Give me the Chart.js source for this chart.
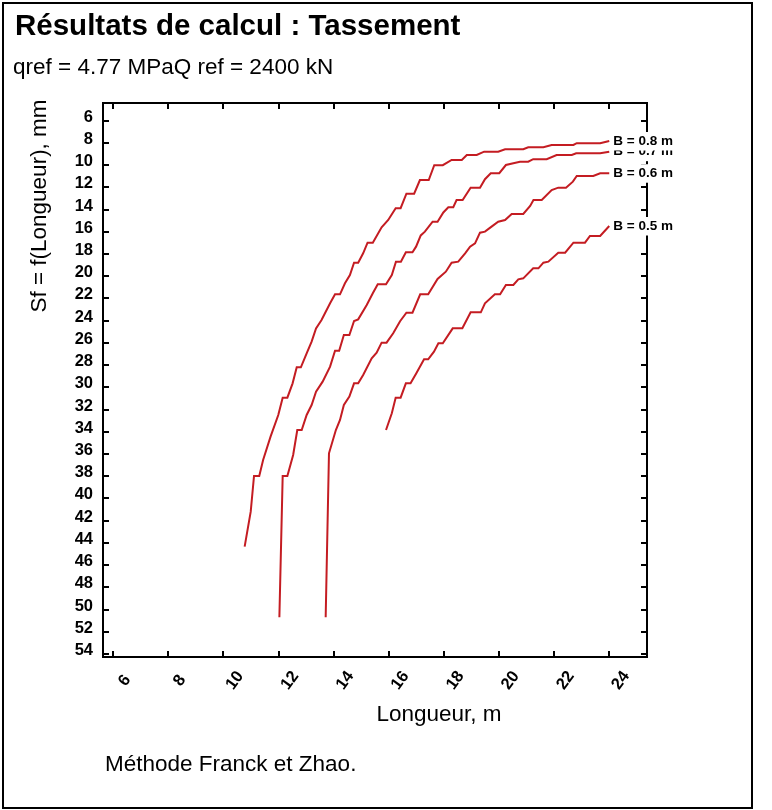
<!DOCTYPE html>
<html>
<head>
<meta charset="utf-8">
<script src="https://cdn.jsdelivr.net/npm/chart.js@4.4.1/dist/chart.umd.min.js"></script>
<style>
  body { margin: 0; background: #fff; }
  #wrap { position: relative; width: 772px; height: 810px; }
</style>
</head>
<body>
<div id="wrap"><canvas id="myChart" width="772" height="810"></canvas></div>
<script>
// Longueur (m) / tassement Sf (mm)
const lenB05 = [15.90,16.11,16.25,16.43,16.62,16.79,17.01,17.28,17.43,17.64,17.80,17.96,18.32,18.67,18.97,19.34,19.49,19.85,20.04,20.25,20.52,20.70,20.88,21.24,21.43,21.61,21.79,22.15,22.40,22.70,23.12,23.30,23.67,24.00];
const sfB05  = [33.84,32.34,30.93,30.93,29.64,29.64,28.68,27.48,27.48,26.79,26.04,26.04,24.69,24.69,23.25,23.25,22.44,21.63,21.63,20.79,20.79,20.28,20.19,19.29,19.29,18.78,18.69,17.88,17.88,16.98,16.98,16.38,16.38,15.48];

const lenB06 = [13.71,13.83,14.08,14.23,14.37,14.57,14.74,14.89,15.07,15.38,15.56,15.74,15.92,16.16,16.41,16.64,16.86,17.14,17.43,17.77,18.07,18.28,18.52,18.77,18.95,19.13,19.31,19.49,19.73,19.97,20.22,20.46,20.88,21.13,21.25,21.55,21.91,22.15,22.43,22.68,22.82,23.42,23.67,24.00];
const sfB06  = [50.70,35.94,33.84,32.94,31.59,30.84,29.64,29.64,28.89,27.39,26.88,25.98,25.98,25.14,24.05,23.28,23.28,21.63,21.63,20.25,19.59,18.78,18.69,17.94,17.34,17.04,16.08,15.99,15.54,15.09,14.94,14.40,14.40,13.68,13.14,13.14,12.24,12.03,12.03,11.49,10.98,10.98,10.73,10.73];

const lenB07 = [12.03,12.15,12.32,12.53,12.68,12.84,13.02,13.20,13.36,13.60,13.87,14.05,14.20,14.37,14.57,14.74,14.89,15.20,15.42,15.60,15.90,16.11,16.26,16.44,16.62,16.86,16.99,17.16,17.31,17.59,17.77,17.98,18.16,18.34,18.46,18.68,18.97,19.31,19.49,19.70,20.01,20.25,20.52,20.76,21.06,21.24,21.73,22.09,22.64,22.80,23.67,24.00];
const sfB07  = [50.70,37.98,37.98,36.09,33.84,33.84,32.49,31.59,30.39,29.49,28.14,26.70,26.70,25.29,25.29,24.03,23.88,22.59,21.54,20.73,20.73,19.89,18.69,18.69,17.84,17.84,17.34,16.33,15.99,15.09,15.09,14.26,13.79,13.79,13.14,13.14,12.03,12.03,11.27,10.73,10.73,9.99,9.83,9.69,9.69,9.47,9.47,9.09,9.09,8.93,8.93,8.79];

const lenB08 = [10.77,10.99,11.11,11.30,11.44,11.71,11.99,12.15,12.32,12.51,12.66,12.81,13.02,13.20,13.36,13.56,13.87,14.05,14.23,14.41,14.59,14.74,14.89,15.07,15.23,15.42,15.74,15.98,16.25,16.43,16.64,16.92,17.13,17.45,17.65,17.96,18.28,18.65,18.83,19.19,19.46,19.97,20.22,20.88,21.06,21.61,21.91,22.70,22.82,23.67,24.00];
const sfB08  = [44.34,41.19,37.98,37.98,36.54,34.44,32.49,30.93,30.93,29.64,28.20,28.20,26.94,25.89,24.69,23.94,22.44,21.63,21.63,20.64,19.89,18.78,18.78,17.94,16.98,16.98,15.59,14.94,13.88,13.88,12.57,12.57,11.34,11.34,10.01,10.01,9.54,9.54,9.09,9.09,8.79,8.79,8.57,8.57,8.39,8.39,8.19,8.19,8.03,8.03,7.83];

const seriesLabels = ['B = 0.5 m', 'B = 0.6 m', 'B = 0.7 m', 'B = 0.8 m'];
const xTickValues = [6, 8, 10, 12, 14, 16, 18, 20, 22, 24];
const yTickValues = [6, 8, 10, 12, 14, 16, 18, 20, 22, 24, 26, 28, 30, 32, 34, 36, 38, 40, 42, 44, 46, 48, 50, 52, 54];

const chartTitle = 'Résultats de calcul : Tassement';
const chartSubtitle = 'qref = 4.77 MPaQ ref = 2400 kN';
const xTitle = 'Longueur, m';
const yTitle = 'Sf = f(Longueur), mm';
const footNote = 'Méthode Franck et Zhao.';

const FONT = '"Liberation Sans", Arial, sans-serif';
const RED = '#c41c22';

function toPoints(xs, ys) {
    return xs.map((v, i) => ({ x: v, y: ys[i] }));
}

// frame, inward ticks, labels and texts, drawn like the old TeeChart output
const decorPlugin = {
    id: 'decor',
    beforeDraw(chart) {
        const ctx = chart.ctx;
        ctx.save();
        ctx.fillStyle = '#fff';
        ctx.fillRect(0, 0, chart.width, chart.height);
        ctx.restore();
    },
    afterDatasetsDraw(chart) {
        const { ctx, chartArea: a, scales: { x, y } } = chart;
        ctx.save();

        // outer border
        ctx.strokeStyle = '#000';
        ctx.lineWidth = 2;
        ctx.strokeRect(3, 3, 749, 805);

        // plot frame
        ctx.strokeRect(a.left, a.top, a.right - a.left, a.bottom - a.top);

        // inward ticks on all four sides
        ctx.beginPath();
        xTickValues.forEach(v => {
            const px = Math.round(x.getPixelForValue(v));
            ctx.moveTo(px, a.bottom); ctx.lineTo(px, a.bottom - 6);
            ctx.moveTo(px, a.top); ctx.lineTo(px, a.top + 6);
        });
        yTickValues.forEach(v => {
            const py = Math.round(y.getPixelForValue(v));
            ctx.moveTo(a.left, py); ctx.lineTo(a.left + 6, py);
            ctx.moveTo(a.right, py); ctx.lineTo(a.right - 6, py);
        });
        ctx.stroke();

        ctx.fillStyle = '#000';

        // y tick labels
        ctx.font = `bold 16.5px ${FONT}`;
        ctx.textAlign = 'right';
        ctx.textBaseline = 'alphabetic';
        yTickValues.forEach(v => {
            ctx.fillText(String(v), a.left - 10, y.getPixelForValue(v) + 1);
        });

        // x tick labels, rotated
        ctx.textAlign = 'center';
        ctx.textBaseline = 'middle';
        xTickValues.forEach(v => {
            const px = x.getPixelForValue(v);
            ctx.save();
            ctx.translate(px + 11.5, a.bottom + 23.5);
            ctx.rotate(-54 * Math.PI / 180);
            ctx.fillText(String(v), 0, 0);
            ctx.restore();
        });

        // series labels at line ends
        ctx.font = `bold 13.5px ${FONT}`;
        ctx.textAlign = 'left';
        chart.data.datasets.forEach(ds => {
            const last = ds.data[ds.data.length - 1];
            const px = x.getPixelForValue(last.x) + 2;
            const py = y.getPixelForValue(last.y);
            const w = ctx.measureText(ds.label).width;
            ctx.fillStyle = '#fff';
            ctx.fillRect(px, py - 9, w + 3, 18.5);
            ctx.fillStyle = '#000';
            ctx.fillText(ds.label, px + 2, py);
        });

        // axis titles
        ctx.font = `22.5px ${FONT}`;
        ctx.textAlign = 'center';
        ctx.fillText(xTitle, 439, 715);
        ctx.save();
        ctx.translate(40, 206);
        ctx.rotate(-Math.PI / 2);
        ctx.fillText(yTitle, 0, 0);
        ctx.restore();

        // title, subtitle, footnote
        ctx.textAlign = 'left';
        ctx.textBaseline = 'alphabetic';
        ctx.font = `bold 29.5px ${FONT}`;
        ctx.fillText(chartTitle, 15, 35);
        ctx.font = `22.5px ${FONT}`;
        ctx.fillText(chartSubtitle, 13, 74);
        ctx.fillText(footNote, 105, 771);

        ctx.restore();
    }
};

const ctx = document.getElementById('myChart').getContext('2d');

new Chart(ctx, {
    type: 'line',
    data: {
        datasets: [
            { label: seriesLabels[0], data: toPoints(lenB05, sfB05) },
            { label: seriesLabels[1], data: toPoints(lenB06, sfB06) },
            { label: seriesLabels[2], data: toPoints(lenB07, sfB07) },
            { label: seriesLabels[3], data: toPoints(lenB08, sfB08) }
        ].map(ds => Object.assign(ds, {
            borderColor: RED,
            backgroundColor: RED,
            borderWidth: 2,
            pointRadius: 0,
            tension: 0,
            fill: false
        }))
    },
    options: {
        responsive: false,
        animation: false,
        devicePixelRatio: 1,
        layout: { padding: { left: 103, top: 103, right: 125, bottom: 153 } },
        plugins: {
            legend: { display: false },
            tooltip: { enabled: false }
        },
        scales: {
            x: { type: 'linear', min: 5.63, max: 25.37, display: false },
            y: { type: 'linear', reverse: true, min: 4.41, max: 54.27, display: false }
        }
    },
    plugins: [decorPlugin]
});
</script>
</body>
</html>
